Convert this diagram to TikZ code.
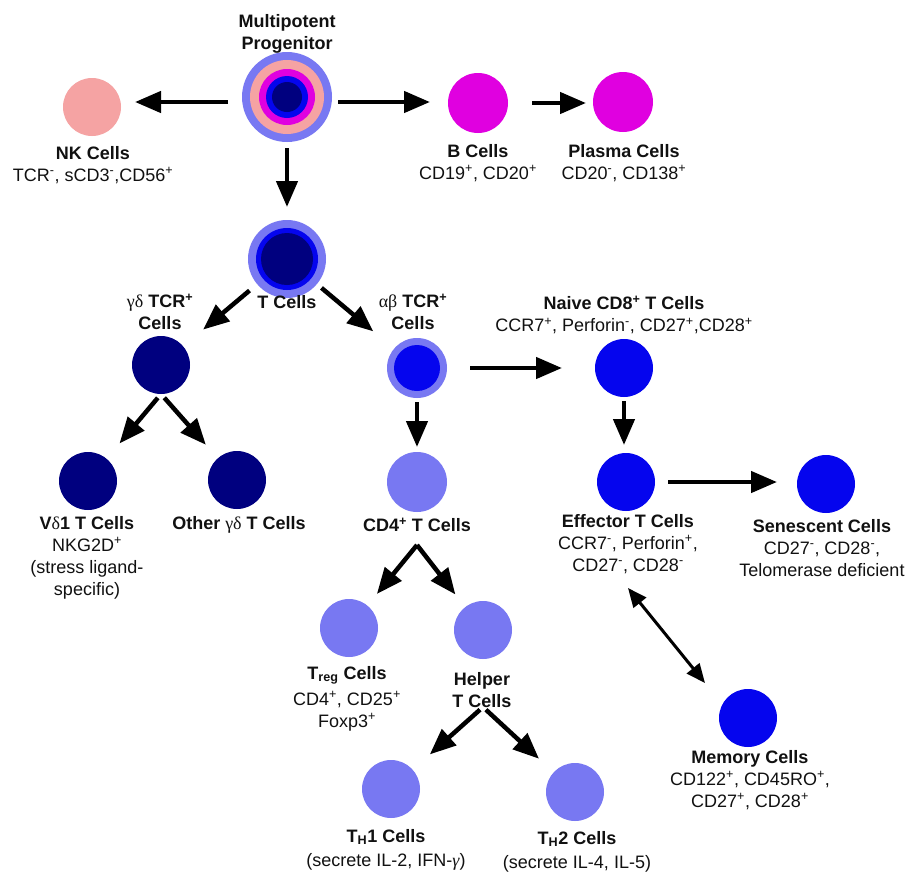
\documentclass[tikz,border=0pt]{standalone}
\usepackage{fontspec}
\setmainfont{Liberation Sans}
\newfontfamily\grk{Liberation Serif}
\usetikzlibrary{arrows.meta}
\definecolor{salmon}{HTML}{F5A3A3}
\definecolor{mag}{HTML}{E000E0}
\definecolor{peri}{HTML}{7878F2}
\definecolor{blu}{HTML}{0505EE}
\definecolor{navy}{HTML}{00007F}
\definecolor{txt}{HTML}{111111}
\newcommand{\sps}{\textsuperscript{+}}
\newcommand{\smn}{\textsuperscript{-}}
\begin{document}
\begin{tikzpicture}[x=1pt,y=-1pt,
  cell/.style={circle, inner sep=0pt, outer sep=0pt, draw=none, minimum size=58pt},
  lbl/.style={anchor=north, align=center, inner sep=0pt, text=txt, font=\fontsize{18}{22}\selectfont},
  arr/.style={-{Triangle[length=26pt,width=21pt]}, line width=4.5pt},
  darr/.style={{Triangle[length=19pt,width=16pt]}-{Triangle[length=19pt,width=16pt]}, line width=3pt}]
\useasboundingbox[fill=white] (0,0) rectangle (911,871);

% cells
\node[cell, fill=peri, minimum size=90pt] (prog) at (287,97) {};
\node[cell, fill=salmon, minimum size=74pt] (progR1) at (287,97) {};
\node[cell, fill=mag, minimum size=56pt] (progR2) at (287,97) {};
\node[cell, fill=blu, minimum size=42pt] (progR3) at (287,97) {};
\node[cell, fill=navy, minimum size=30pt] (progR4) at (287,97) {};

\node[cell, fill=salmon] (nk) at (92,107) {};
\node[cell, fill=mag, minimum size=60pt] (bc) at (478,103) {};
\node[cell, fill=mag, minimum size=60pt] (pc) at (623,102) {};

\node[cell, fill=peri, minimum size=78pt] (tc) at (287,259) {};
\node[cell, fill=blu, minimum size=62pt] (tcR1) at (287,259) {};
\node[cell, fill=navy, minimum size=52pt] (tcR2) at (287,259) {};

\node[cell, fill=navy] (gd) at (161,365) {};
\node[cell, fill=peri, minimum size=60pt] (ab) at (417,368) {};
\node[cell, fill=blu, minimum size=46pt] (abR1) at (417,368) {};

\node[cell, fill=blu] (naive) at (624,368) {};
\node[cell, fill=blu] (eff) at (626,482) {};
\node[cell, fill=blu] (sen) at (826,484) {};
\node[cell, fill=blu] (mem) at (748,718) {};

\node[cell, fill=navy] (vd1) at (88,481) {};
\node[cell, fill=navy] (ogd) at (237,480) {};

\node[cell, fill=peri, minimum size=60pt] (cd4) at (417,482) {};
\node[cell, fill=peri] (treg) at (349,628) {};
\node[cell, fill=peri] (help) at (483,630) {};
\node[cell, fill=peri] (th1) at (391,789) {};
\node[cell, fill=peri] (th2) at (575,792) {};

% labels
\node[lbl] (progL) at (287,14) {\textbf{Multipotent}\\\textbf{Progenitor}};
\node[lbl] (nkL) at (93,146) {\textbf{NK Cells}\\TCR\smn, sCD3\smn,CD56\sps};
\node[lbl] (bcL) at (478,144) {\textbf{B Cells}\\CD19\sps, CD20\sps};
\node[lbl] (pcL) at (624,144) {\textbf{Plasma Cells}\\CD20\smn, CD138\sps};
\node[lbl] (tcL) at (287,295) {\textbf{T Cells}};
\node[lbl] (gdL) at (160,294) {\textbf{{\grk\mdseries γδ} TCR\sps}\\\textbf{Cells}};
\node[lbl] (abL) at (413,294) {\textbf{{\grk\mdseries αβ} TCR\sps}\\\textbf{Cells}};
\node[lbl] (naiveL) at (624,296) {\textbf{Naive CD8\sps{} T Cells}\\CCR7\sps, Perforin\smn, CD27\sps,CD28\sps};
\node[lbl] (effL) at (628,514) {\textbf{Effector T Cells}\\CCR7\smn, Perforin\sps,\\CD27\smn, CD28\smn};
\node[lbl] (senL) at (822,519) {\textbf{Senescent Cells}\\CD27\smn, CD28\smn,\\Telomerase deficient};
\node[lbl] (vd1L) at (87,516) {\textbf{V{\grk\mdseries δ}1 T Cells}\\NKG2D\sps\\(stress ligand-\\specific)};
\node[lbl] (ogdL) at (239,516) {\textbf{Other {\grk\mdseries γδ} T Cells}};
\node[lbl] (cd4L) at (417,518) {\textbf{CD4\sps{} T Cells}};
\node[lbl] (tregL) at (347,666) {\textbf{T\textsubscript{reg} Cells}\\[4pt]CD4\sps, CD25\sps\\Foxp3\sps};
\node[lbl] (helpL) at (482,672) {\textbf{Helper}\\\textbf{T Cells}};
\node[lbl] (th1L) at (386,829) {\textbf{T\textsubscript{H}1 Cells}\\[2pt](secrete IL-2, IFN-{\grk\itshape γ})};
\node[lbl] (th2L) at (577,831) {\textbf{T\textsubscript{H}2 Cells}\\[2pt](secrete IL-4, IL-5)};
\node[lbl] (memL) at (750,750) {\textbf{Memory Cells}\\CD122\sps, CD45RO\sps,\\CD27\sps, CD28\sps};

% connectors
\coordinate (pw) at ([yshift=-5pt]prog.west);
\coordinate (pe) at ([yshift=-5pt]prog.east);
\draw[arr, shorten <=14pt, shorten >=14pt] (pw) -- (pw -| nk.east);
\draw[arr, shorten <=6pt, shorten >=18pt] (pe) -- (pe -| bc.west);
\draw[arr, shorten <=24pt, shorten >=7pt] (bc.east) -- (bc.east -| pc.west);
\draw[arr, shorten <=6pt, shorten >=13pt] (prog.south) -- (tc.north);
\draw[arr, shorten <=10pt, shorten >=26pt] (tc) -- (gd);
\draw[arr, shorten <=6pt, shorten >=27pt] (tc) -- (ab);
\draw[arr, shorten <=23pt, shorten >=33pt] (ab.east) -- (ab.east -| naive.west);
\draw[arr, shorten <=4pt, shorten >=8pt] (naive.south) -- (naive.south |- eff.north);
\draw[arr, shorten <=13pt, shorten >=20pt] (eff.east) -- (eff.east -| sen.west);
\coordinate (em1) at (628,588);
\coordinate (em2) at (705,683);
\draw[darr] (em1) -- (em2);
\draw[arr, shorten <=5pt, shorten >=20pt] (gd.south) -- (vd1);
\draw[arr, shorten <=5pt, shorten >=18pt] (gd.south) -- (ogd);
\draw[arr, shorten <=4pt, shorten >=5pt] (ab.south) -- (cd4.north);
\coordinate (cd4b) at (417,545);
\draw[arr, shorten >=15pt] (cd4b) -- (treg);
\draw[arr, shorten >=16pt] (cd4b) -- (help);
\coordinate (helpb) at (483,707);
\draw[arr, shorten <=4pt, shorten >=23pt] (helpb) -- (th1);
\draw[arr, shorten <=4pt, shorten >=20pt] (helpb) -- (th2);
\end{tikzpicture}
\end{document}
